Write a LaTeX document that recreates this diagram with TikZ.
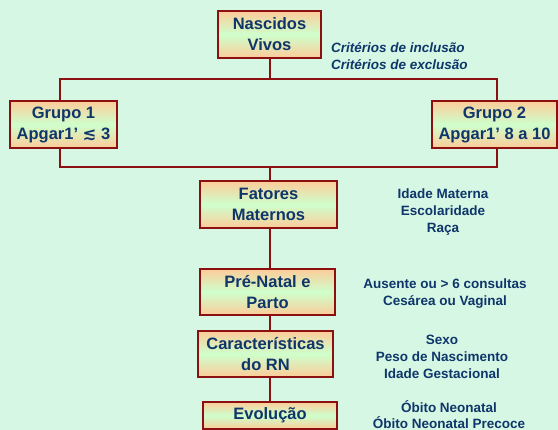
\documentclass[tikz,border=0pt]{standalone}
\usepackage{fontspec}
\setmainfont{Liberation Sans}
\newfontfamily\simbolo{DejaVu Sans}
\usetikzlibrary{positioning}

\definecolor{fundo}{RGB}{214,247,228}
\definecolor{borda}{RGB}{140,16,16}
\definecolor{pessego}{RGB}{252,204,153}
\definecolor{verdinho}{RGB}{206,255,204}
\definecolor{azul}{RGB}{14,54,106}

\begin{document}
\begin{tikzpicture}
		[x=1pt,y=-1pt,
		etapa node/.style={shape=rectangle,draw=borda,line width=1.6pt,
			top color=pessego,bottom color=pessego,middle color=verdinho,
			text=azul,font=\bfseries\fontsize{16.5}{21}\selectfont,
			align=center,inner sep=0pt,minimum height=47pt},
		nota node/.style={text=azul,font=\bfseries\fontsize{13.5}{17}\selectfont,
			align=center,inner sep=0pt},
		ligacao/.style={draw=borda,line width=1.6pt}
		]
		
		\fill[fundo] (0,0) rectangle (558,430);
		\useasboundingbox (0,0) rectangle (558,430);
		
		% pontos dos ramos
		\coordinate (topo) at (270,79);
		\coordinate (topoE) at (60,79);
		\coordinate (topoD) at (497,79);
		\coordinate (baixo) at (270,167);
		\coordinate (baixoE) at (60,167);
		\coordinate (baixoD) at (497,167);
		
		\node [etapa node,minimum width=103pt] (nv) at (269.5,34.5) {Nascidos\\Vivos};
		\node [etapa node,minimum width=107pt] (g1) at (63.5,124.5) {Grupo 1\\Apgar1’ {\simbolo ≲} 3};
		\node [etapa node,minimum width=125pt] (g2) at (494.5,124.5) {Grupo 2\\Apgar1’ 8 a 10};
		\node [etapa node,minimum width=137pt] (fm) at (268.5,204.5) {Fatores\\Maternos};
		\node [etapa node,minimum width=135pt,minimum height=46pt] (pn) at (267.5,292) {Pré-Natal e\\Parto};
		\node [etapa node,minimum width=135pt,minimum height=46pt] (cr) at (265.5,354) {Características\\do RN};
		\node [etapa node,minimum width=134pt,minimum height=27pt] (ev) at (270,415.5) {Evolução};
		
		\node [nota node,anchor=west,align=left,font=\bfseries\itshape\fontsize{13.5}{17}\selectfont] (crit) at (331,56) {Critérios de inclusão\\Critérios de exclusão};
		\node [nota node] (nfm) at (443,212) {Idade Materna\\Escolaridade\\Raça};
		\node [nota node] (npn) at (445,293.5) {Ausente ou > 6 consultas\\Cesárea ou Vaginal};
		\node [nota node] (ncr) at (442,356.5) {Sexo\\Peso de Nascimento\\Idade Gestacional};
		\node [nota node,font=\bfseries\fontsize{13.5}{16}\selectfont] (nev) at (449,414.5) {Óbito Neonatal\\Óbito Neonatal Precoce};
		
		\path[ligacao]
		(nv.south -| topo) -- (topo)
		(topoE |- g1.north) -- (topoE) -- (topoD) -- (topoD |- g2.north)
		(g1.south -| baixoE) -- (baixoE) -- (baixoD) -- (g2.south -| baixoD)
		(baixo) -- (fm.north -| baixo)
		(fm.south -| baixo) -- (pn.north -| baixo)
		(pn.south -| baixo) -- (cr.north -| baixo)
		(cr.south -| baixo) -- (ev.north -| baixo)
		;
		
\end{tikzpicture}
\end{document}
